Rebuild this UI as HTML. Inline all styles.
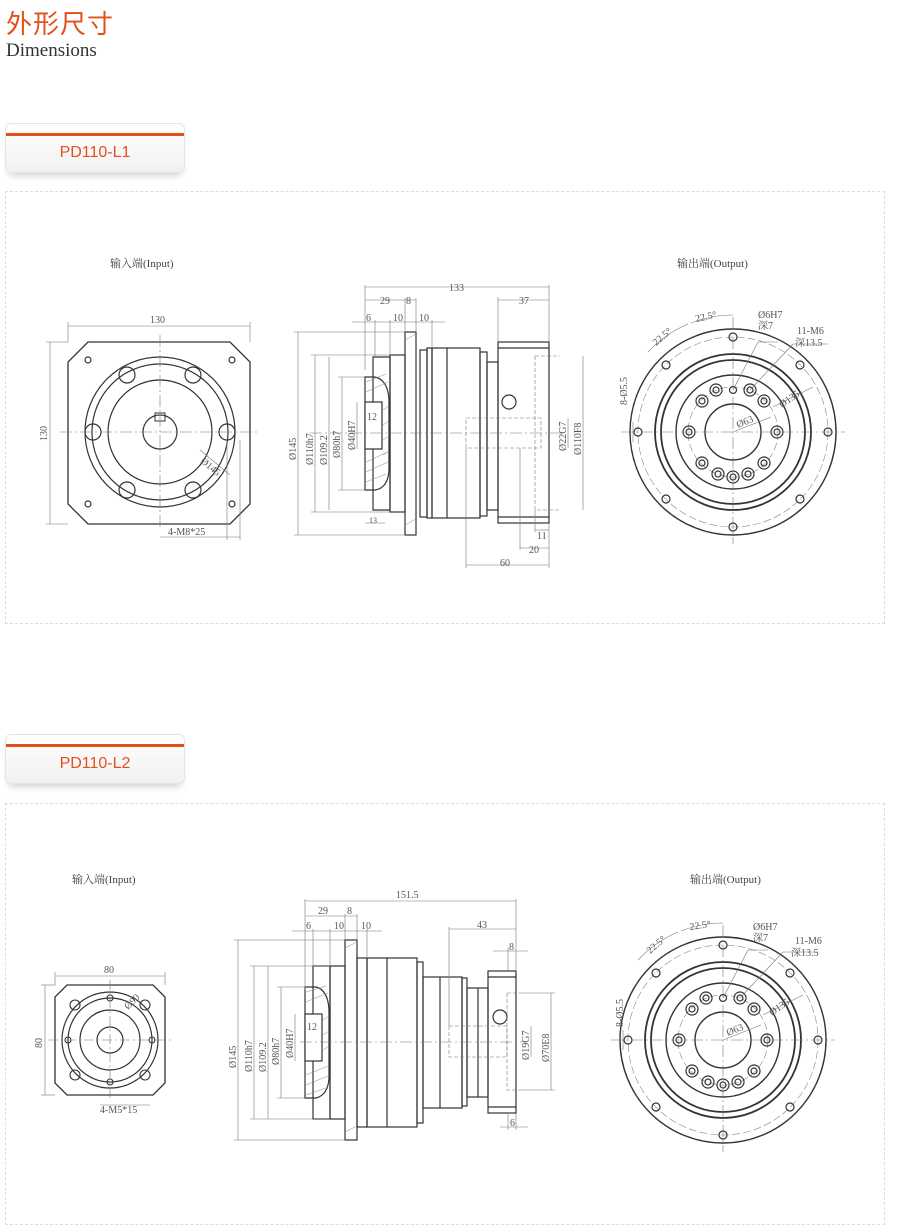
<!DOCTYPE html>
<html><head><meta charset="utf-8"><style>
body{margin:0;width:900px;height:1201px;background:#fff;position:relative;overflow:hidden;font-family:"Liberation Sans",sans-serif}
.t1{position:absolute;left:6px;top:4px;font:26px "Noto Sans CJK SC",sans-serif;color:#e2501c;letter-spacing:1px}
.t2{position:absolute;left:6px;top:40px;font:19px "Liberation Serif",serif;color:#333}
.tab{position:absolute;left:5px;width:178px;height:48px;border:1px solid #e4e4e4;border-radius:6px;background:linear-gradient(#fff,#f1f1f1);box-shadow:0 6px 8px -4px #ccc}
.tab:before{content:"";position:absolute;left:0;right:0;top:9px;height:3px;background:#e2501c}
.tab span{position:absolute;left:0;right:0;top:20px;text-align:center;color:#e2501c;font-size:16px}
.box{position:absolute;left:5px;width:878px;border:1px dashed #ddd}
svg{position:absolute;left:0;top:0}
</style></head><body>
<div class="t1">外形尺寸</div>
<div class="t2">Dimensions</div>
<div class="tab" style="top:123px"><span>PD110-L1</span></div>
<div class="box" style="top:191px;height:431px"></div>
<div class="tab" style="top:734px"><span>PD110-L2</span></div>
<div class="box" style="top:803px;height:420px"></div>
<svg width="900" height="1201" viewBox="0 0 900 1201" font-family="Liberation Serif,Noto Serif CJK SC,serif" font-size="10" fill="none" stroke="#333" stroke-width="1">
<defs>
<g id="outc">
<circle cx="0" cy="0" r="103" stroke-width="1.4"/>
<circle cx="0" cy="0" r="95" stroke="#888" stroke-width=".6" stroke-dasharray="8 3"/>
<circle cx="0" cy="0" r="78" stroke-width="1.8"/>
<circle cx="0" cy="0" r="72" stroke-width="1.8"/>
<circle cx="0" cy="0" r="57" stroke-width="1.4"/>
<circle cx="0" cy="0" r="45" stroke="#888" stroke-width=".6" stroke-dasharray="8 3"/>
<circle cx="0" cy="0" r="28" stroke-width="1.4"/>
<g stroke-width="1.2">
<circle cx="0" cy="-95" r="4"/><circle cx="67" cy="-67" r="4"/><circle cx="95" cy="0" r="4"/><circle cx="67" cy="67" r="4"/>
<circle cx="0" cy="95" r="4"/><circle cx="-67" cy="67" r="4"/><circle cx="-95" cy="0" r="4"/><circle cx="-67" cy="-67" r="4"/>
<circle cx="0" cy="-42" r="3.5"/>
<circle cx="17" cy="-42" r="6"/><circle cx="17" cy="-42" r="3"/>
<circle cx="31" cy="-31" r="6"/><circle cx="31" cy="-31" r="3"/>
<circle cx="44" cy="0" r="6"/><circle cx="44" cy="0" r="3"/>
<circle cx="31" cy="31" r="6"/><circle cx="31" cy="31" r="3"/>
<circle cx="15" cy="42" r="6"/><circle cx="15" cy="42" r="3"/>
<circle cx="0" cy="45" r="6"/><circle cx="0" cy="45" r="3"/>
<circle cx="-15" cy="42" r="6"/><circle cx="-15" cy="42" r="3"/>
<circle cx="-31" cy="31" r="6"/><circle cx="-31" cy="31" r="3"/>
<circle cx="-44" cy="0" r="6"/><circle cx="-44" cy="0" r="3"/>
<circle cx="-31" cy="-31" r="6"/><circle cx="-31" cy="-31" r="3"/>
<circle cx="-17" cy="-42" r="6"/><circle cx="-17" cy="-42" r="3"/>
</g>
<g stroke="#777" stroke-width=".6">
<line x1="-112" y1="0" x2="112" y2="0" stroke-dasharray="12 3 2 3"/>
<line x1="0" y1="-115" x2="0" y2="112" stroke-dasharray="12 3 2 3"/>
<path d="M-85 -80 A117 117 0 0 1 -45 -108 M-42 -109 A117 117 0 0 1 0 -117"/>
<line x1="0" y1="-42" x2="25" y2="-90"/><line x1="25" y1="-90" x2="45" y2="-90"/>
<line x1="17" y1="-42" x2="60" y2="-88"/><line x1="60" y1="-88" x2="95" y2="-88"/>
<line x1="0" y1="0" x2="38" y2="-15"/><line x1="40" y1="-25" x2="80" y2="-45"/>
<line x1="-100" y1="-10" x2="-100" y2="10"/>
</g>
</g>
</defs>

<!-- labels -->
<g fill="#444" stroke="none" font-size="11">
<text x="110" y="267">输入端(Input)</text>
<text x="677" y="267">输出端(Output)</text>
<text x="72" y="883">输入端(Input)</text>
<text x="690" y="883">输出端(Output)</text>
</g>

<!-- ===== Input 1 ===== -->
<path d="M88 342 H230 L250 362 V504 L230 524 H88 L68 504 V362 Z" stroke-width="1.3"/>
<circle cx="160" cy="432" r="75" stroke-width="1.2"/>
<circle cx="160" cy="432" r="68" stroke-width="1.2"/>
<circle cx="160" cy="432" r="52" stroke-width="1.2"/>
<circle cx="160" cy="432" r="17" stroke-width="1.2"/>
<rect x="155" y="413" width="10" height="8"/>
<g stroke-width="1.2">
<circle cx="127" cy="375" r="8"/><circle cx="193" cy="375" r="8"/><circle cx="93" cy="432" r="8"/><circle cx="227" cy="432" r="8"/><circle cx="127" cy="490" r="8"/><circle cx="193" cy="490" r="8"/>
<circle cx="88" cy="360" r="3"/><circle cx="232" cy="360" r="3"/><circle cx="88" cy="504" r="3"/><circle cx="232" cy="504" r="3"/>
</g>
<g stroke="#777" stroke-width=".6">
<line x1="60" y1="432" x2="258" y2="432" stroke-dasharray="12 3 2 3"/>
<line x1="160" y1="335" x2="160" y2="530" stroke-dasharray="12 3 2 3"/>
<line x1="68" y1="326" x2="250" y2="326"/><line x1="68" y1="322" x2="68" y2="342"/><line x1="250" y1="322" x2="250" y2="342"/>
<line x1="50" y1="342" x2="50" y2="524"/><line x1="46" y1="342" x2="68" y2="342"/><line x1="46" y1="524" x2="68" y2="524"/>
<line x1="160" y1="537" x2="240" y2="537"/><line x1="227" y1="440" x2="227" y2="540"/><line x1="240" y1="440" x2="240" y2="540"/>
<line x1="200" y1="450" x2="230" y2="475"/>
</g>
<g fill="#555" stroke="none" font-size="10">
<text x="150" y="323">130</text>
<text x="47" y="441" transform="rotate(-90 47 441)" x-dummy="">130</text>
<text x="168" y="535">4-M8*25</text>
<text x="200" y="462" transform="rotate(40 200 462)">Ø145</text>
</g>

<!-- ===== Middle 1 ===== -->
<g stroke-width="1.2">
<rect x="405" y="332" width="11" height="203"/>
<rect x="390" y="355" width="15" height="157"/>
<path d="M373 357 H390 V510 H373 Z"/>
<path d="M365 377 H375 Q388 380 389 400 V470 Q388 488 375 490 H365 Z"/>
<rect x="365" y="402" width="17" height="47" fill="#fff"/>
<rect x="420" y="350" width="7" height="167"/>
<rect x="427" y="348" width="5" height="170"/>
<rect x="432" y="348" width="48" height="170"/>
<line x1="447" y1="348" x2="447" y2="518"/>
<rect x="480" y="352" width="7" height="164"/>
<rect x="487" y="362" width="11" height="148"/>
<rect x="498" y="342" width="51" height="181"/>
<line x1="498" y1="348" x2="549" y2="348"/><line x1="498" y1="517" x2="549" y2="517"/>
<circle cx="509" cy="402" r="7"/>
</g>
<g stroke="#888" stroke-width=".5">
<path d="M366 382 l20 -8 M366 392 l22 -10 M383 410 l6 -4 M383 425 l6 -4 M383 440 l6 -4 M383 455 l6 -4 M366 462 l22 -10 M366 472 l22 -10 M366 482 l20 -8"/>
<path d="M405 340 l11 -6 M405 525 l11 -6"/>
</g>
<g stroke="#777" stroke-width=".6">
<line x1="310" y1="433" x2="565" y2="433" stroke-dasharray="12 3 2 3"/>
<rect x="466" y="418" width="75" height="30" stroke-dasharray="4 2"/>
<path d="M535 356 H560 M535 356 V510 H560" stroke-dasharray="4 2"/>
<line x1="365" y1="287" x2="549" y2="287"/>
<line x1="365" y1="300" x2="416" y2="300"/>
<line x1="352" y1="322" x2="445" y2="322"/>
<line x1="365" y1="285" x2="365" y2="370"/><line x1="549" y1="285" x2="549" y2="342"/>
<line x1="405" y1="298" x2="405" y2="332"/><line x1="416" y1="298" x2="416" y2="332"/>
<line x1="375" y1="320" x2="375" y2="357"/><line x1="390" y1="320" x2="390" y2="355"/><line x1="432" y1="320" x2="432" y2="348"/>
<line x1="498" y1="300" x2="549" y2="300"/><line x1="498" y1="297" x2="498" y2="342"/>
<line x1="298" y1="332" x2="298" y2="535"/><line x1="294" y1="332" x2="405" y2="332"/><line x1="294" y1="535" x2="405" y2="535"/>
<line x1="315" y1="355" x2="315" y2="512"/><line x1="311" y1="355" x2="390" y2="355"/><line x1="311" y1="512" x2="390" y2="512"/>
<line x1="329" y1="357" x2="329" y2="510"/>
<line x1="342" y1="377" x2="342" y2="490"/><line x1="338" y1="377" x2="365" y2="377"/><line x1="338" y1="490" x2="365" y2="490"/>
<line x1="357" y1="402" x2="357" y2="449"/>
<line x1="365" y1="523" x2="385" y2="523"/>
<line x1="466" y1="448" x2="466" y2="568"/><line x1="466" y1="565" x2="549" y2="565"/>
<line x1="520" y1="548" x2="549" y2="548"/><line x1="520" y1="448" x2="520" y2="550"/>
<line x1="535" y1="530" x2="549" y2="530"/><line x1="535" y1="510" x2="535" y2="532"/>
<line x1="549" y1="523" x2="549" y2="568"/>
<line x1="568" y1="418" x2="568" y2="448"/>
<line x1="583" y1="356" x2="583" y2="510"/>
</g>
<g fill="#555" stroke="none" font-size="10">
<text x="449" y="291">133</text>
<text x="380" y="304">29</text><text x="406" y="304">8</text>
<text x="366" y="321">6</text><text x="393" y="321">10</text><text x="419" y="321">10</text>
<text x="519" y="304">37</text>
<text x="296" y="460" transform="rotate(-90 296 460)">Ø145</text>
<text x="313" y="465" transform="rotate(-90 313 465)">Ø110h7</text>
<text x="327" y="465" transform="rotate(-90 327 465)">Ø109.2</text>
<text x="340" y="458" transform="rotate(-90 340 458)">Ø80h7</text>
<text x="355" y="450" transform="rotate(-90 355 450)">Ø40H7</text>
<text x="367" y="420">12</text>
<text x="369" y="523" font-size="8">13</text>
<text x="537" y="539">11</text><text x="529" y="553">20</text><text x="500" y="566">60</text>
<text x="566" y="451" transform="rotate(-90 566 451)">Ø22G7</text>
<text x="581" y="455" transform="rotate(-90 581 455)">Ø110F8</text>
</g>

<!-- ===== Output 1 ===== -->
<use href="#outc" transform="translate(733 432)"/>
<g fill="#555" stroke="none" font-size="10">
<text x="656" y="346" transform="rotate(-40 656 346)">22.5°</text>
<text x="696" y="322" transform="rotate(-12 696 322)">22.5°</text>
<text x="758" y="318">Ø6H7</text><text x="758" y="329">深7</text>
<text x="797" y="334">11-M6</text><text x="795" y="346">深13.5</text>
<text x="782" y="408" transform="rotate(-35 782 408)">Ø135</text>
<text x="738" y="428" transform="rotate(-22 738 428)">Ø63</text>
<text x="627" y="405" transform="rotate(-90 627 405)">8-Ø5.5</text>
</g>

<!-- ===== Input 2 ===== -->
<path d="M67 985 H153 L165 997 V1083 L153 1095 H67 L55 1083 V997 Z" stroke-width="1.3"/>
<circle cx="110" cy="1040" r="48" stroke-width="1.2"/>
<circle cx="110" cy="1040" r="42" stroke-width="1.2"/>
<circle cx="110" cy="1040" r="30" stroke-width="1.2"/>
<circle cx="110" cy="1040" r="13" stroke-width="1.2"/>
<g stroke-width="1.1">
<circle cx="75" cy="1005" r="5"/><circle cx="145" cy="1005" r="5"/><circle cx="75" cy="1075" r="5"/><circle cx="145" cy="1075" r="5"/>
<circle cx="68" cy="1040" r="3"/><circle cx="152" cy="1040" r="3"/><circle cx="110" cy="998" r="3"/><circle cx="110" cy="1082" r="3"/>
</g>
<g stroke="#777" stroke-width=".6">
<line x1="48" y1="1040" x2="172" y2="1040" stroke-dasharray="10 3 2 3"/>
<line x1="110" y1="980" x2="110" y2="1100" stroke-dasharray="10 3 2 3"/>
<line x1="55" y1="976" x2="165" y2="976"/><line x1="55" y1="972" x2="55" y2="985"/><line x1="165" y1="972" x2="165" y2="985"/>
<line x1="45" y1="985" x2="45" y2="1095"/><line x1="41" y1="985" x2="55" y2="985"/><line x1="41" y1="1095" x2="55" y2="1095"/>
<line x1="100" y1="1105" x2="150" y2="1105"/>
</g>
<g fill="#555" stroke="none" font-size="10">
<text x="104" y="973">80</text>
<text x="42" y="1048" transform="rotate(-90 42 1048)">80</text>
<text x="100" y="1113">4-M5*15</text>
<text x="128" y="1010" transform="rotate(-45 128 1010)">Ø90</text>
</g>

<!-- ===== Middle 2 ===== -->
<g stroke-width="1.2">
<rect x="345" y="940" width="12" height="200"/>
<rect x="330" y="966" width="15" height="153"/>
<rect x="313" y="966" width="17" height="153"/>
<path d="M305 987 H316 Q328 990 329 1010 V1078 Q328 1095 316 1098 H305 Z"/>
<rect x="305" y="1014" width="17" height="47" fill="#fff"/>
<rect x="357" y="958" width="10" height="169"/>
<rect x="367" y="958" width="50" height="169"/>
<line x1="387" y1="958" x2="387" y2="1127"/>
<rect x="417" y="962" width="6" height="161"/>
<rect x="423" y="977" width="39" height="131"/>
<line x1="440" y1="977" x2="440" y2="1108"/>
<rect x="462" y="978" width="5" height="128"/>
<rect x="467" y="988" width="21" height="109"/>
<line x1="478" y1="988" x2="478" y2="1097"/>
<rect x="488" y="971" width="28" height="142"/>
<line x1="488" y1="977" x2="516" y2="977"/><line x1="488" y1="1107" x2="516" y2="1107"/>
<circle cx="500" cy="1017" r="7"/>
</g>
<g stroke="#888" stroke-width=".5">
<path d="M306 992 l20 -6 M306 1002 l22 -9 M323 1020 l6 -4 M323 1035 l6 -4 M323 1050 l6 -4 M306 1075 l22 -9 M306 1085 l22 -9 M306 1095 l20 -7"/>
<path d="M345 948 l12 -6 M345 1132 l12 -6"/>
</g>
<g stroke="#777" stroke-width=".6">
<line x1="300" y1="1042" x2="525" y2="1042" stroke-dasharray="12 3 2 3"/>
<rect x="449" y="1026" width="58" height="31" stroke-dasharray="4 2"/>
<path d="M507 993 H520 M507 993 V1090 H520" stroke-dasharray="4 2"/>
<line x1="305" y1="901" x2="516" y2="901"/>
<line x1="305" y1="916" x2="357" y2="916"/>
<line x1="292" y1="931" x2="382" y2="931"/>
<line x1="305" y1="899" x2="305" y2="990"/><line x1="516" y1="899" x2="516" y2="971"/>
<line x1="345" y1="914" x2="345" y2="940"/><line x1="357" y1="914" x2="357" y2="940"/>
<line x1="313" y1="929" x2="313" y2="966"/><line x1="330" y1="929" x2="330" y2="966"/><line x1="367" y1="929" x2="367" y2="958"/>
<line x1="449" y1="929" x2="516" y2="929"/><line x1="449" y1="927" x2="449" y2="1026"/>
<line x1="493" y1="951" x2="528" y2="951"/><line x1="508" y1="948" x2="508" y2="971"/>
<line x1="238" y1="940" x2="238" y2="1140"/><line x1="234" y1="940" x2="345" y2="940"/><line x1="234" y1="1140" x2="345" y2="1140"/>
<line x1="254" y1="966" x2="254" y2="1119"/><line x1="250" y1="966" x2="330" y2="966"/><line x1="250" y1="1119" x2="330" y2="1119"/>
<line x1="268" y1="966" x2="268" y2="1119"/>
<line x1="281" y1="987" x2="281" y2="1098"/><line x1="277" y1="987" x2="305" y2="987"/><line x1="277" y1="1098" x2="305" y2="1098"/>
<line x1="295" y1="1014" x2="295" y2="1061"/>
<line x1="500" y1="1127" x2="528" y2="1127"/><line x1="508" y1="1113" x2="508" y2="1130"/><line x1="516" y1="1113" x2="516" y2="1130"/>
<line x1="531" y1="1026" x2="531" y2="1057"/>
<line x1="551" y1="993" x2="551" y2="1090"/><line x1="520" y1="993" x2="555" y2="993"/><line x1="520" y1="1090" x2="555" y2="1090"/>
</g>
<g fill="#555" stroke="none" font-size="10">
<text x="396" y="898">151.5</text>
<text x="318" y="914">29</text><text x="347" y="914">8</text>
<text x="306" y="929">6</text><text x="334" y="929">10</text><text x="361" y="929">10</text>
<text x="477" y="928">43</text><text x="509" y="950">8</text><text x="510" y="1126">6</text>
<text x="236" y="1068" transform="rotate(-90 236 1068)">Ø145</text>
<text x="252" y="1072" transform="rotate(-90 252 1072)">Ø110h7</text>
<text x="266" y="1072" transform="rotate(-90 266 1072)">Ø109.2</text>
<text x="279" y="1065" transform="rotate(-90 279 1065)">Ø80h7</text>
<text x="293" y="1058" transform="rotate(-90 293 1058)">Ø40H7</text>
<text x="307" y="1030">12</text>
<text x="529" y="1060" transform="rotate(-90 529 1060)">Ø19G7</text>
<text x="549" y="1062" transform="rotate(-90 549 1062)">Ø70E8</text>
</g>

<!-- ===== Output 2 ===== -->
<use href="#outc" transform="translate(723 1040)"/>
<g fill="#555" stroke="none" font-size="10">
<text x="650" y="954" transform="rotate(-40 650 954)">22.5°</text>
<text x="690" y="930" transform="rotate(-8 690 930)">22.5°</text>
<text x="753" y="930">Ø6H7</text><text x="753" y="941">深7</text>
<text x="795" y="944">11-M6</text><text x="791" y="956">深13.5</text>
<text x="772" y="1016" transform="rotate(-35 772 1016)">Ø135</text>
<text x="728" y="1036" transform="rotate(-22 728 1036)">Ø63</text>
<text x="623" y="1027" transform="rotate(-90 623 1027)">8-Ø5.5</text>
</g>
</svg>
</body></html>
